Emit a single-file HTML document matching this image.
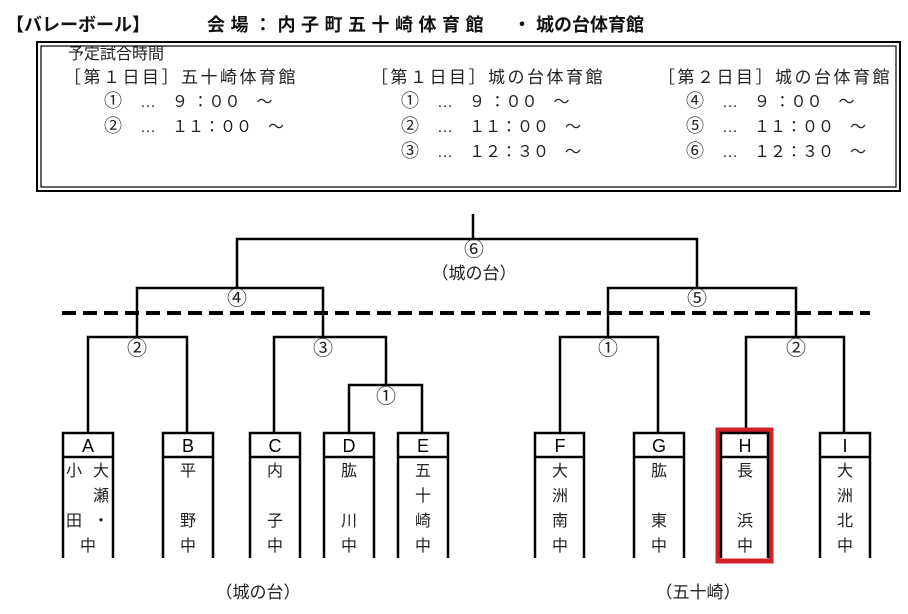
<!DOCTYPE html>
<html><head><meta charset="utf-8"><style>
body{margin:0;background:#fff;}
svg{display:block;font-family:"Liberation Sans","Noto Sans CJK JP",sans-serif;}
</style></head><body>
<svg width="908" height="614" viewBox="0 0 908 614" xmlns="http://www.w3.org/2000/svg">
<rect width="908" height="614" fill="#fff"/>
<g font-size="18" font-weight="bold" fill="#111">
<text x="6" y="31">【バレーボール】</text>
<text x="207" y="31" letter-spacing="5.5">会場：内子町五十崎体育館</text>
<text x="513" y="31">・ 城の台体育館</text>
</g>
<rect x="37" y="42" width="863" height="149" fill="none" stroke="#000" stroke-width="2"/>
<rect x="41" y="46" width="855" height="141" fill="none" stroke="#000" stroke-width="1.2"/>
<g font-size="16" fill="#222">
<text x="68" y="59">予定試合時間</text>
<g font-size="17" letter-spacing="2.5">
<text x="64" y="83">［第１日目］五十崎体育館</text>
<text x="371" y="83">［第１日目］城の台体育館</text>
<text x="658" y="83">［第２日目］城の台体育館</text>
</g>
<text x="104" y="107" font-size="18">①</text><text x="140" y="107">…　９ ：００　～</text>
<text x="104" y="132" font-size="18">②</text><text x="140" y="132">…　１１：００　～</text>
<text x="401" y="107" font-size="18">①</text><text x="437" y="107">…　９ ：００　～</text>
<text x="401" y="132" font-size="18">②</text><text x="437" y="132">…　１１：００　～</text>
<text x="401" y="157" font-size="18">③</text><text x="437" y="157">…　１２：３０　～</text>
<text x="686" y="107" font-size="18">④</text><text x="722" y="107">…　９ ：００　～</text>
<text x="686" y="132" font-size="18">⑤</text><text x="722" y="132">…　１１：００　～</text>
<text x="686" y="157" font-size="18">⑥</text><text x="722" y="157">…　１２：３０　～</text>
</g>
<g stroke="#000" stroke-width="2.5" fill="none">
<path d="M473 214V239M237 288V239H697V288"/>
<path d="M137 337V288H323V337M608 337V288H796V337"/>
<path d="M88 433V337H187V433M274 433V337H386V385M349 433V385H422V433"/>
<path d="M560 433V337H658V433M746 429V337H844V433"/>
</g>
<line x1="62" y1="313" x2="870" y2="313" stroke="#000" stroke-width="4" stroke-dasharray="14,7"/>
<g font-size="20" fill="#222" text-anchor="middle">
<text x="474" y="256">⑥</text>
<text x="237" y="305">④</text>
<text x="697" y="305">⑤</text>
<text x="137" y="355">②</text>
<text x="323" y="355">③</text>
<text x="386" y="403">①</text>
<text x="608" y="355">①</text>
<text x="796" y="355">②</text>
</g>
<g font-size="17" fill="#222" text-anchor="middle">
<text x="474" y="279">（城の台）</text>
<text x="258" y="598">（城の台）</text>
<text x="698" y="598">（五十崎）</text>
</g>
<rect x="718" y="430" width="53" height="131" fill="none" stroke="#d0202a" stroke-width="5"/>
<g stroke="#000" stroke-width="2.5" fill="none">
<path d="M63 558V433H113V558M63 457H113"/>
<path d="M163 558V433H213V558M163 457H213"/>
<path d="M250 558V433H300V558M250 457H300"/>
<path d="M324 558V433H374V558M324 457H374"/>
<path d="M398 558V433H448V558M398 457H448"/>
<path d="M535 558V433H584V558M535 457H584"/>
<path d="M634 558V433H684V558M634 457H684"/>
<path d="M721 558V433H768V558M721 457H768"/>
<path d="M820 558V433H870V558M820 457H870"/>
</g>
<g font-size="18" fill="#000" text-anchor="middle">
<text x="88" y="452">A</text><text x="188" y="452">B</text><text x="275" y="452">C</text><text x="349" y="452">D</text><text x="423" y="452">E</text>
<text x="560" y="452">F</text><text x="659" y="452">G</text><text x="745" y="452">H</text><text x="845" y="452">I</text>
</g>
<g font-size="16" fill="#222" text-anchor="middle">
<text x="74" y="476">小</text><text x="101" y="476">大</text><text x="101" y="501">瀬</text><text x="74" y="526">田</text><text x="101" y="526">・</text><text x="88" y="551">中</text>
<text x="188" y="476">平</text><text x="188" y="526">野</text><text x="188" y="551">中</text>
<text x="275" y="476">内</text><text x="275" y="526">子</text><text x="275" y="551">中</text>
<text x="349" y="476">肱</text><text x="349" y="526">川</text><text x="349" y="551">中</text>
<text x="423" y="476">五</text><text x="423" y="501">十</text><text x="423" y="526">崎</text><text x="423" y="551">中</text>
<text x="560" y="476">大</text><text x="560" y="501">洲</text><text x="560" y="526">南</text><text x="560" y="551">中</text>
<text x="659" y="476">肱</text><text x="659" y="526">東</text><text x="659" y="551">中</text>
<text x="745" y="476">長</text><text x="745" y="526">浜</text><text x="745" y="551">中</text>
<text x="845" y="476">大</text><text x="845" y="501">洲</text><text x="845" y="526">北</text><text x="845" y="551">中</text>
</g>
</svg>
</body></html>
